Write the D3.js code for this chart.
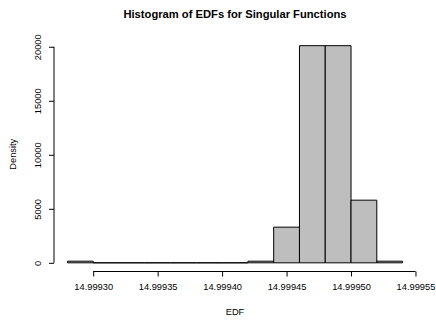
<!DOCTYPE html>
<html>
<head>
<meta charset="utf-8">
<script src="https://cdn.jsdelivr.net/npm/d3@7"></script>
<style>
  body { margin: 0; background: #fff; }
  svg { display: block; font-family: "Liberation Sans", Arial, sans-serif; }
</style>
</head>
<body>
<div id="chart"></div>
<script>
// Histogram bins (EDF) and densities
const binStarts = [14.99928, 14.99930, 14.99932, 14.99934, 14.99936, 14.99938, 14.99940,
                   14.99942, 14.99944, 14.99946, 14.99948, 14.99950, 14.99952];
const binWidth = 0.00002;
const densities = [150, 0, 0, 0, 0, 0, 0, 150, 3300, 20100, 20100, 5800, 150];
const xTicks = [14.99930, 14.99935, 14.99940, 14.99945, 14.99950, 14.99955];
const yTicks = [0, 5000, 10000, 15000, 20000];

const width = 436, height = 322;
const plot = { left: 54, right: 416, top: 37, bottom: 271.5 };

const svg = d3.select("#chart").append("svg")
    .attr("width", width)
    .attr("height", height);

// R-style 4% padding on both axes
const xMin = binStarts[0], xMax = binStarts[binStarts.length - 1] + binWidth;
const xPad = (xMax - xMin) * 0.04;
const x = d3.scaleLinear()
    .domain([xMin - xPad, xMax + xPad])
    .range([plot.left, plot.right]);

const yMax = d3.max(densities);
const y = d3.scaleLinear()
    .domain([-yMax * 0.04, yMax * 1.04])
    .range([plot.bottom, plot.top]);

// bars as closed paths so empty bins still show as a line on the baseline
svg.selectAll("path.bar")
    .data(densities)
    .enter()
    .append("path")
    .attr("class", "bar")
    .attr("d", (d, i) => {
        const x0 = x(binStarts[i]), x1 = x(binStarts[i] + binWidth);
        const y0 = y(0), y1 = y(d);
        return `M${x0},${y0}V${y1}H${x1}V${y0}Z`;
    })
    .attr("fill", "#bebebe")
    .attr("stroke", "#000")
    .attr("stroke-width", 1);

// x axis
const xAxis = svg.append("g")
    .attr("transform", `translate(0, ${plot.bottom})`)
    .call(d3.axisBottom(x).tickValues(xTicks).tickFormat(d3.format(".5f")).tickSize(5).tickPadding(7));
xAxis.select(".domain")
    .attr("d", `M${x(xTicks[0])},0H${x(xTicks[xTicks.length - 1])}`);
xAxis.selectAll("text").attr("font-size", "9.3px").attr("font-family", "Liberation Sans, Arial, sans-serif");

// y axis, labels rotated like R
const yAxis = svg.append("g")
    .attr("transform", `translate(${plot.left}, 0)`)
    .call(d3.axisLeft(y).tickValues(yTicks).tickSize(5).tickFormat(d3.format("d")));
yAxis.select(".domain")
    .attr("d", `M0,${y(yTicks[0])}V${y(yTicks[yTicks.length - 1])}`);
yAxis.selectAll("text")
    .attr("font-size", "9.3px")
    .attr("font-family", "Liberation Sans, Arial, sans-serif")
    .attr("x", 0)
    .attr("y", 0)
    .attr("dy", "0.35em")
    .attr("transform", "translate(-16,0) rotate(-90)")
    .attr("text-anchor", "middle");

// title and axis labels
svg.append("text")
    .attr("x", (plot.left + plot.right) / 2)
    .attr("y", 18)
    .attr("text-anchor", "middle")
    .attr("font-size", "11.2px")
    .attr("font-weight", "bold")
    .text("Histogram of EDFs for Singular Functions");

svg.append("text")
    .attr("x", (plot.left + plot.right) / 2)
    .attr("y", 315)
    .attr("text-anchor", "middle")
    .attr("font-size", "9.3px")
    .text("EDF");

svg.append("text")
    .attr("transform", `translate(16, ${(plot.top + plot.bottom) / 2}) rotate(-90)`)
    .attr("text-anchor", "middle")
    .attr("font-size", "9.3px")
    .text("Density");
</script>
</body>
</html>
